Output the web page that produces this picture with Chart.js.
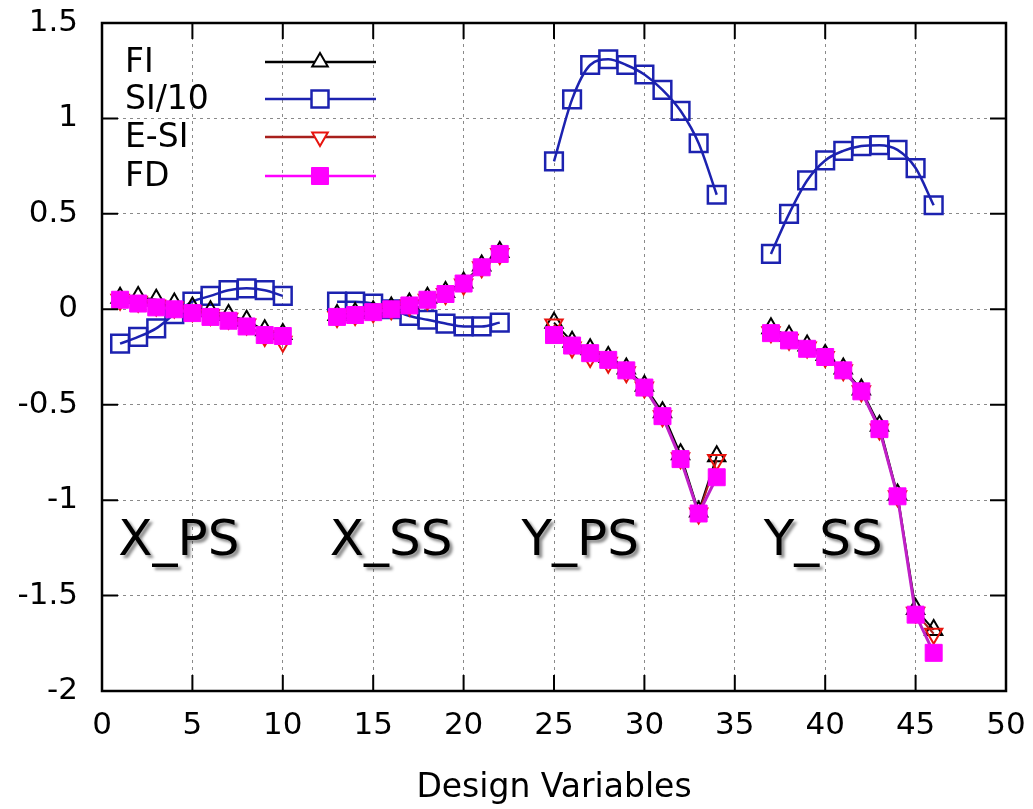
<!DOCTYPE html>
<html>
<head>
<meta charset="utf-8">
<script src="https://cdn.jsdelivr.net/npm/chart.js@4/dist/chart.umd.min.js"></script>
<style>
  html, body { margin: 0; padding: 0; background: #fff; }
  #wrap { width: 1033px; height: 809px; }
</style>
</head>
<body>
<div id="wrap"><canvas id="myChart" width="1033" height="809"></canvas></div>
<script>
// design variable index for every plotted point (gaps between groups break the lines)
const designVariables = [
  1, 2, 3, 4, 5, 6, 7, 8, 9, 10,
  13, 14, 15, 16, 17, 18, 19, 20, 21, 22,
  25, 26, 27, 28, 29, 30, 31, 32, 33, 34,
  37, 38, 39, 40, 41, 42, 43, 44, 45, 46
];

const fiValues = [
  0.06, 0.065, 0.05, 0.03, 0.01, -0.01, -0.03, -0.06, -0.11, -0.13,
  -0.03, -0.02, -0.01, 0.01, 0.03, 0.06, 0.09, 0.14, 0.23, 0.30,
  -0.07, -0.17, -0.21, -0.25, -0.31, -0.40, -0.54, -0.76, -1.06, -0.77,
  -0.10, -0.14, -0.19, -0.24, -0.31, -0.42, -0.61, -0.97, -1.57, -1.68
];

const siValues = [
  -0.18, -0.145, -0.10, -0.025, 0.04, 0.07, 0.10, 0.11, 0.10, 0.07,
  0.04, 0.04, 0.03, 0.0, -0.035, -0.055, -0.075, -0.09, -0.09, -0.07,
  0.775, 1.10, 1.28, 1.31, 1.28, 1.23, 1.15, 1.04, 0.87, 0.60,
  0.29, 0.50, 0.675, 0.78, 0.83, 0.855, 0.86, 0.835, 0.74, 0.545
];

const esiValues = [
  0.05, 0.04, 0.02, 0.01, -0.01, -0.03, -0.05, -0.08, -0.14, -0.17,
  -0.04, -0.03, -0.015, 0.0, 0.02, 0.05, 0.08, 0.13, 0.22, 0.29,
  -0.08, -0.20, -0.25, -0.28, -0.33, -0.41, -0.56, -0.78, -1.07, -0.79,
  -0.12, -0.16, -0.20, -0.25, -0.32, -0.43, -0.63, -0.98, -1.59, -1.70
];

const fdValues = [
  0.05, 0.03, 0.01, 0.0, -0.02, -0.04, -0.06, -0.09, -0.135, -0.14,
  -0.04, -0.03, -0.015, 0.0, 0.02, 0.05, 0.08, 0.135, 0.22, 0.29,
  -0.135, -0.19, -0.23, -0.265, -0.32, -0.41, -0.56, -0.785, -1.07, -0.88,
  -0.125, -0.163, -0.207, -0.25, -0.32, -0.43, -0.628, -0.98, -1.60, -1.80
];

const xTicks = [0, 5, 10, 15, 20, 25, 30, 35, 40, 45, 50];
const yTicks = [-2, -1.5, -1, -0.5, 0, 0.5, 1, 1.5];

const groupNames = ['X_PS', 'X_SS', 'Y_PS', 'Y_SS'];
const groupNameAt = [[0.9, -1.29], [12.6, -1.29], [23.2, -1.29], [36.6, -1.29]];

function toPoints(values) {
  const pts = [];
  for (let i = 0; i < values.length; i++) {
    if (i > 0 && designVariables[i] - designVariables[i - 1] > 1) {
      pts.push({ x: (designVariables[i] + designVariables[i - 1]) / 2, y: null });
    }
    pts.push({ x: designVariables[i], y: values[i] });
  }
  return pts;
}

const FONT = '"DejaVu Sans", sans-serif';

// gnuplot-like frame with inward ticks on all four sides
const framePlugin = {
  id: 'frame',
  afterDraw(chart) {
    const { ctx, chartArea: a, scales } = chart;
    ctx.save();
    ctx.strokeStyle = '#000';
    ctx.lineWidth = 2;
    ctx.beginPath();
    xTicks.forEach(v => {
      const px = scales.x.getPixelForValue(v);
      ctx.moveTo(px, a.bottom); ctx.lineTo(px, a.bottom - 16);
      ctx.moveTo(px, a.top); ctx.lineTo(px, a.top + 16);
    });
    yTicks.forEach(v => {
      const py = scales.y.getPixelForValue(v);
      ctx.moveTo(a.left, py); ctx.lineTo(a.left + 16, py);
      ctx.moveTo(a.right, py); ctx.lineTo(a.right - 16, py);
    });
    ctx.stroke();
    ctx.lineWidth = 2.5;
    ctx.strokeRect(a.left, a.top, a.right - a.left, a.bottom - a.top);
    ctx.restore();
  }
};

// group names written inside the plot
const groupLabelPlugin = {
  id: 'groupLabels',
  afterDatasetsDraw(chart) {
    const { ctx, scales } = chart;
    ctx.save();
    ctx.font = '50px ' + FONT;
    ctx.textAlign = 'left';
    ctx.textBaseline = 'alphabetic';
    ctx.fillStyle = '#000';
    ctx.shadowColor = 'rgba(0,0,0,0.45)';
    ctx.shadowOffsetX = 3;
    ctx.shadowOffsetY = 3;
    ctx.shadowBlur = 3;
    groupNames.forEach((name, i) => {
      ctx.fillText(name, scales.x.getPixelForValue(groupNameAt[i][0]), scales.y.getPixelForValue(groupNameAt[i][1]));
    });
    ctx.restore();
  }
};

function drawMarker(ctx, style, x, y, r, rotation) {
  ctx.beginPath();
  if (style === 'rect') {
    const s = r * Math.SQRT1_2;
    ctx.rect(x - s, y - s, 2 * s, 2 * s);
  } else {
    let rad = rotation * Math.PI / 180;
    for (let k = 0; k < 3; k++) {
      const px = x + Math.sin(rad) * r, py = y - Math.cos(rad) * r;
      if (k === 0) ctx.moveTo(px, py); else ctx.lineTo(px, py);
      rad += 2 * Math.PI / 3;
    }
    ctx.closePath();
  }
}

// key in the top-left corner: text on the left, line sample on the right
const keyPlugin = {
  id: 'key',
  afterDraw(chart) {
    const { ctx } = chart;
    const rowsY = [62, 99, 137, 176];
    ctx.save();
    ctx.font = '33px ' + FONT;
    ctx.textBaseline = 'middle';
    ctx.textAlign = 'left';
    chart.data.datasets.forEach((ds, row) => {
      const y = rowsY[row];
      ctx.fillStyle = '#000';
      ctx.fillText(ds.label, 125, y + 1);
      ctx.strokeStyle = ds.keyLine || ds.borderColor;
      ctx.lineWidth = 2.5;
      ctx.beginPath();
      ctx.moveTo(265, y); ctx.lineTo(376, y);
      ctx.stroke();
      drawMarker(ctx, ds.pointStyle, 320, y, ds.keyRadius, ds.pointRotation || 0);
      ctx.fillStyle = ds.pointBackgroundColor === 'rgba(0,0,0,0)' ? '#fff' : ds.pointBackgroundColor;
      ctx.fill();
      ctx.strokeStyle = ds.pointBorderColor;
      ctx.lineWidth = ds.pointBorderWidth;
      ctx.stroke();
    });
    ctx.restore();
  }
};

const ctx = document.getElementById('myChart').getContext('2d');

new Chart(ctx, {
  type: 'line',
  data: {
    datasets: [
      {
        label: 'FI',
        data: toPoints(fiValues),
        borderColor: '#000',
        borderWidth: 2,
        pointStyle: 'triangle',
        pointRadius: 10,
        keyRadius: 9,
        pointBorderColor: '#000',
        pointBorderWidth: 2,
        pointBackgroundColor: 'rgba(0,0,0,0)',
        order: 2
      },
      {
        label: 'SI/10',
        data: toPoints(siValues),
        borderColor: '#1c22b0',
        borderWidth: 2.5,
        cubicInterpolationMode: 'monotone',
        pointStyle: 'rect',
        pointRadius: 12.5,
        keyRadius: 12,
        pointBorderColor: '#1c22b0',
        pointBorderWidth: 2.5,
        pointBackgroundColor: 'rgba(0,0,0,0)',
        order: 3
      },
      {
        label: 'E-SI',
        data: toPoints(esiValues),
        borderColor: '#a8201c',
        keyLine: '#a8201c',
        borderWidth: 2,
        pointStyle: 'triangle',
        pointRotation: 180,
        pointRadius: 10,
        keyRadius: 9,
        pointBorderColor: '#e8140e',
        pointBorderWidth: 2,
        pointBackgroundColor: 'rgba(0,0,0,0)',
        order: 1
      },
      {
        label: 'FD',
        data: toPoints(fdValues),
        borderColor: '#c020c8',
        keyLine: '#ff00ff',
        borderWidth: 3,
        pointStyle: 'rect',
        pointRadius: 12,
        keyRadius: 12,
        pointBorderColor: '#ff00ff',
        pointBorderWidth: 1,
        pointBackgroundColor: '#ff00ff',
        order: 0
      }
    ]
  },
  options: {
    responsive: false,
    animation: false,
    spanGaps: false,
    layout: { padding: { left: 0, right: 27, top: 23, bottom: 0 } },
    plugins: {
      legend: { display: false },
      tooltip: { enabled: false }
    },
    scales: {
      x: {
        type: 'linear',
        min: 0,
        max: 50,
        afterBuildTicks: s => { s.ticks = xTicks.map(v => ({ value: v })); },
        afterFit: s => { s.height = 118; s.paddingLeft = 0; s.paddingRight = 0; },
        grid: { color: '#8a8a8a', lineWidth: 1, drawTicks: false },
        border: { display: false, dash: [3, 4] },
        ticks: {
          padding: 16,
          color: '#000',
          font: { family: FONT, size: 31 },
          maxRotation: 0,
          autoSkip: false,
          callback: v => String(v)
        },
        title: {
          display: true,
          text: 'Design Variables',
          color: '#000',
          font: { family: FONT, size: 33 },
          padding: { top: 0, bottom: 1 }
        }
      },
      y: {
        min: -2,
        max: 1.5,
        afterBuildTicks: s => { s.ticks = yTicks.map(v => ({ value: v })); },
        afterFit: s => { s.width = 102; s.paddingTop = 0; s.paddingBottom = 0; },
        grid: { color: '#8a8a8a', lineWidth: 1, drawTicks: false },
        border: { display: false, dash: [3, 4] },
        ticks: {
          padding: 24,
          color: '#000',
          font: { family: FONT, size: 31 },
          autoSkip: false,
          callback: v => String(v)
        }
      }
    }
  },
  plugins: [groupLabelPlugin, framePlugin, keyPlugin]
});
</script>
</body>
</html>
